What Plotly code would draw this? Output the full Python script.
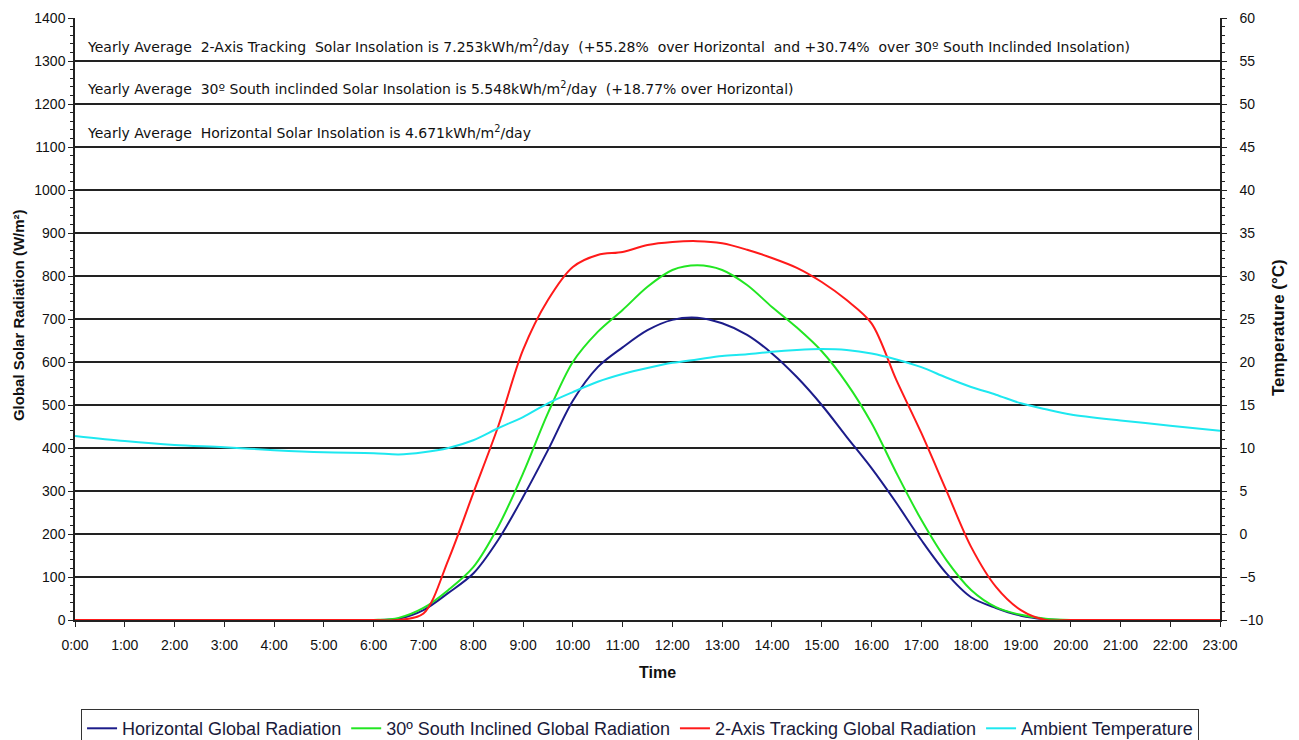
import plotly.graph_objects as go

hours = [0, 1, 2, 3, 4, 5, 6, 6.5, 7, 7.5, 8, 8.5, 9, 9.5, 10, 10.5, 11, 11.5, 12, 12.5,
         13, 13.5, 14, 14.5, 15, 15.5, 16, 16.5, 17, 17.5, 18, 18.5, 19, 19.5, 20, 21, 22, 23]

horizontal = [0, 0, 0, 0, 0, 0, 0, 3, 23, 63, 108, 186, 286, 395, 510, 588, 634, 674, 698, 703,
              690, 663, 620, 565, 500, 426, 353, 272, 186, 109, 53, 28, 10, 2, 0, 0, 0, 0]

inclined = [0, 0, 0, 0, 0, 0, 0, 5, 28, 70, 123, 217, 341, 481, 600, 670, 721, 775, 814, 825,
            814, 779, 728, 680, 625, 551, 458, 342, 233, 140, 70, 30, 12, 3, 0, 0, 0, 0]

tracking = [0, 0, 0, 0, 0, 0, 0, 0, 15, 140, 295, 450, 628, 744, 821, 849, 856, 872, 879, 881,
            876, 861, 842, 819, 786, 744, 690, 558, 435, 302, 170, 77, 23, 0, 0, 0, 0, 0]

temperature = [11.4, 10.8, 10.35, 10.1, 9.75, 9.5, 9.4, 9.25, 9.5, 10.0, 10.9, 12.3, 13.6, 15.2,
               16.5, 17.7, 18.6, 19.3, 19.9, 20.3, 20.7, 20.9, 21.2, 21.4, 21.5, 21.4, 21.0, 20.3,
               19.4, 18.2, 17.1, 16.2, 15.2, 14.5, 13.9, 13.2, 12.6, 12.0]

tick_hours = list(range(24))
tick_labels = [f"{h}:00" for h in tick_hours]

notes = [
    "Yearly Average  2-Axis Tracking  Solar Insolation is 7.253kWh/m<sup>2</sup>/day  (+55.28%  over Horizontal  and +30.74%  over 30º South Inclinded Insolation)",
    "Yearly Average  30º South inclinded Solar Insolation is 5.548kWh/m<sup>2</sup>/day  (+18.77% over Horizontal)",
    "Yearly Average  Horizontal Solar Insolation is 4.671kWh/m<sup>2</sup>/day",
]
note_levels = [1335, 1237, 1135]

FONT = "Liberation Sans, Arial, sans-serif"
NOTE_FONT = "DejaVu Sans, sans-serif"

fig = go.Figure()
fig.add_trace(go.Scatter(x=hours, y=horizontal, name="Horizontal Global Radiation", mode="lines",
                         line=dict(color="#1c1c8a", width=2, shape="spline", smoothing=0.9)))
fig.add_trace(go.Scatter(x=hours, y=inclined, name="30º South Inclined Global Radiation", mode="lines",
                         line=dict(color="#22e622", width=2, shape="spline", smoothing=0.9)))
fig.add_trace(go.Scatter(x=hours, y=tracking, name="2-Axis Tracking Global Radiation", mode="lines",
                         line=dict(color="#ff1a1a", width=2, shape="spline", smoothing=0.9)))
fig.add_trace(go.Scatter(x=hours, y=temperature, name="Ambient Temperature", mode="lines", yaxis="y2",
                         line=dict(color="#1ee8f0", width=2, shape="spline", smoothing=0.9)))

for txt, lvl in zip(notes, note_levels):
    fig.add_annotation(x=0.2, y=lvl, xref="x", yref="y", text=txt, showarrow=False,
                       xanchor="left", yanchor="middle",
                       font=dict(family=NOTE_FONT, size=14, color="#111"))

# axis titles
fig.add_annotation(x=-0.0495, y=0.507, xref="paper", yref="paper", text="<b>Global Solar Radiation (W/m²)</b>",
                   textangle=-90, showarrow=False, xanchor="center", yanchor="middle",
                   font=dict(family=FONT, size=15, color="#111"))
fig.add_annotation(x=1.0507, y=0.485, xref="paper", yref="paper", text="<b>Temperature (°C)</b>",
                   textangle=-90, showarrow=False, xanchor="center", yanchor="middle",
                   font=dict(family=FONT, size=17, color="#111"))
fig.add_annotation(x=0.509, y=-0.0864, xref="paper", yref="paper", text="<b>Time</b>",
                   showarrow=False, xanchor="center", yanchor="middle",
                   font=dict(family=FONT, size=16, color="#111"))

axis_common = dict(showline=True, linecolor="#222", linewidth=1.5, ticks="outside", ticklen=5,
                   tickcolor="#222", zeroline=False, automargin=False,
                   tickfont=dict(family=FONT, size=14, color="#111"))

fig.update_layout(
    width=1291, height=732,
    margin=dict(l=67, r=79, t=10, b=120, autoexpand=False),
    paper_bgcolor="white", plot_bgcolor="white",
    font=dict(family=FONT, size=12, color="#111"),
    showlegend=True,
    legend=dict(orientation="h", x=0.4935, xanchor="center", y=-0.148, yanchor="top",
                font=dict(family=FONT, size=18, color="#1a1a3a"),
                bordercolor="#333", borderwidth=1, bgcolor="white",
                itemwidth=30),
    xaxis=dict(range=[0, 23], tickvals=tick_hours, ticktext=tick_labels, showgrid=False,
               ticklabelstandoff=6, **axis_common),
    yaxis=dict(range=[0, 1400], dtick=100, showgrid=True, gridcolor="#222", gridwidth=1.5,
               minor=dict(dtick=20, ticks="outside", ticklen=3, tickcolor="#222", showgrid=False),
               **axis_common),
    yaxis2=dict(range=[-10, 60], dtick=5, overlaying="y", side="right", showgrid=False,
                minor=dict(dtick=1, ticks="outside", ticklen=3, tickcolor="#222"),
                ticklabelstandoff=10, **axis_common),
)

fig.write_html("out.html")
